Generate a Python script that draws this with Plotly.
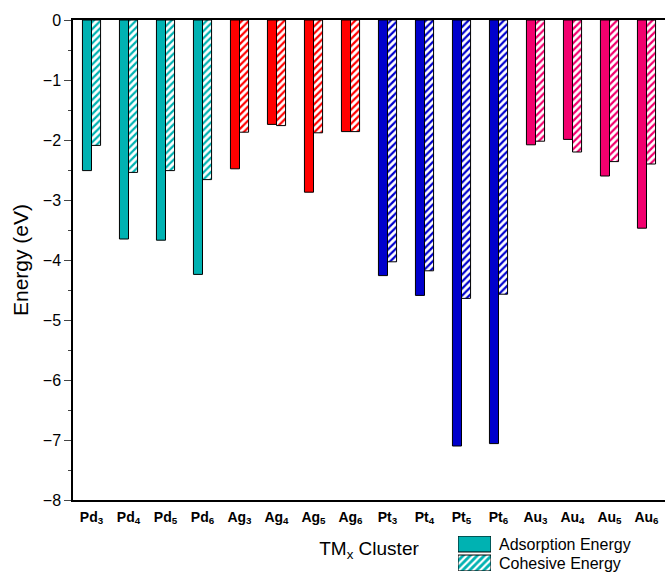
import plotly.graph_objects as go

clusters = ["Pd3", "Pd4", "Pd5", "Pd6", "Ag3", "Ag4", "Ag5", "Ag6",
            "Pt3", "Pt4", "Pt5", "Pt6", "Au3", "Au4", "Au5", "Au6"]
tick_labels = ["<b>%s<sub>%s</sub></b>" % (c[:2], c[2:]) for c in clusters]
adsorption = [-2.51, -3.65, -3.67, -4.24, -2.48, -1.74, -2.87, -1.86,
              -4.26, -4.59, -7.10, -7.06, -2.08, -1.99, -2.60, -3.47]
cohesive = [-2.09, -2.54, -2.51, -2.66, -1.87, -1.76, -1.88, -1.86,
            -4.03, -4.18, -4.64, -4.57, -2.02, -2.20, -2.36, -2.40]
metal_colors = {"Pd": "#00B2B2", "Ag": "#FF0000", "Pt": "#0000CC", "Au": "#F2006E"}
colors = [metal_colors[c[:2]] for c in clusters]
legend_names = ["Adsorption Energy", "Cohesive Energy"]
legend_color = metal_colors["Pd"]

# layout geometry (pixels)
W, H = 665, 572
ML, MT = 73, 20
PW, PH = W - ML, H - MT
plot_bottom = 500


def fx(px):
    return (px - ML) / PW


def fy(py):
    return (H - py) / PH


line = dict(color="black", width=1)
hatch = dict(shape="/", fgcolor="white", size=5, solidity=0.45, fillmode="replace")

fig = go.Figure()
fig.add_trace(go.Bar(
    x=clusters, y=adsorption, name=legend_names[0],
    marker=dict(color=colors, line=line), showlegend=False,
))
fig.add_trace(go.Bar(
    x=clusters, y=cohesive, name=legend_names[1],
    marker=dict(color=colors, line=line, pattern=dict(bgcolor=colors, **hatch)),
    showlegend=False,
))

# legend swatches drawn in a small auxiliary axis
fig.add_trace(go.Bar(
    x=[1], y=[1], base=0, orientation="h", width=0.84, xaxis="x2", yaxis="y2",
    marker=dict(color=legend_color, line=line), showlegend=False, hoverinfo="skip",
))
fig.add_trace(go.Bar(
    x=[1], y=[0], base=0, orientation="h", width=0.84, xaxis="x2", yaxis="y2",
    marker=dict(color=legend_color, line=line,
                pattern=dict(bgcolor=legend_color, **hatch)),
    showlegend=False, hoverinfo="skip",
))

annotations = [
    dict(text=legend_names[0], x=fx(497), y=fy(544), xref="paper", yref="paper",
         xanchor="left", yanchor="middle", showarrow=False, font=dict(size=16)),
    dict(text=legend_names[1], x=fx(497), y=fy(563), xref="paper", yref="paper",
         xanchor="left", yanchor="middle", showarrow=False, font=dict(size=16)),
]

fig.update_layout(
    width=W, height=H,
    margin=dict(l=ML, r=0, t=MT, b=0, autoexpand=False),
    paper_bgcolor="white", plot_bgcolor="white",
    barmode="group", bargap=0.51, bargroupgap=0,
    font=dict(family="Arial, Liberation Sans, sans-serif", color="black"),
    showlegend=False,
    annotations=annotations,
    xaxis=dict(
        range=[-0.5, 15.5], tickmode="array", tickvals=clusters, ticktext=tick_labels,
        tickfont=dict(size=14), showline=True, linecolor="black", linewidth=1.5,
        mirror=True, ticks="", showgrid=False, ticklabelstandoff=3, automargin=False,
        title=dict(text="TM<sub>x</sub> Cluster", font=dict(size=19), standoff=16),
    ),
    yaxis=dict(
        domain=[fy(plot_bottom), 1],
        range=[-8, 0], dtick=1, tickfont=dict(size=16), showline=True, linecolor="black",
        linewidth=1.5, ticks="outside", ticklen=7, tickwidth=1, showgrid=False,
        zeroline=False, automargin=False,
        minor=dict(dtick=0.5, ticks="outside", ticklen=3, tickwidth=1, showgrid=False),
        title=dict(text="Energy (eV)", font=dict(size=21), standoff=8),
    ),
    xaxis2=dict(domain=[fx(458), fx(491)], range=[0, 1], anchor="y2", visible=False,
                fixedrange=True),
    yaxis2=dict(domain=[fy(571), fy(536)], range=[-0.421, 1.421], anchor="x2",
                visible=False, fixedrange=True),
)
fig.write_html("out.html")
